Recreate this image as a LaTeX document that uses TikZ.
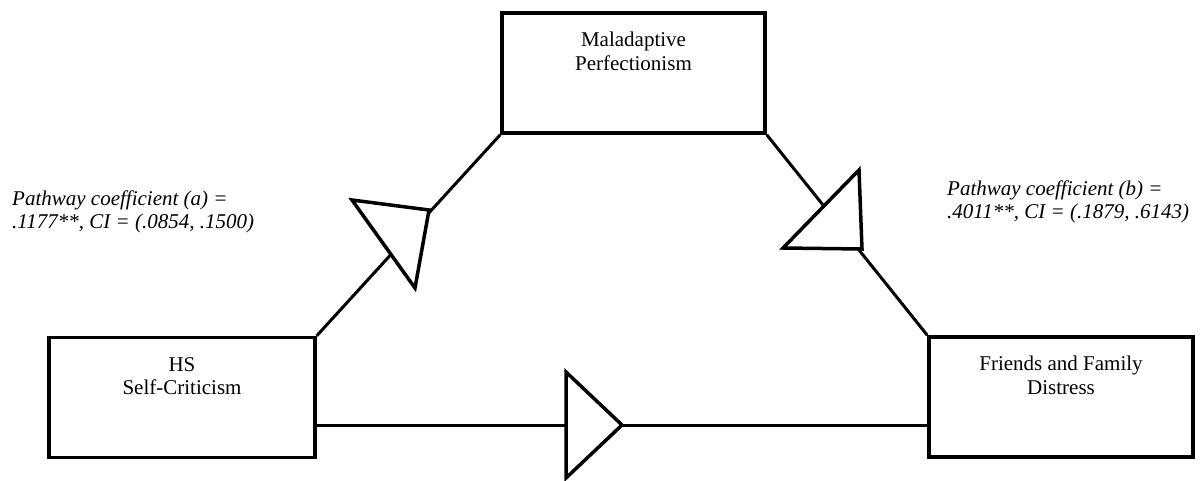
\documentclass[tikz,border=0pt]{standalone}
\usepackage{fontspec}
\setmainfont{Liberation Serif}
\begin{document}
\begin{tikzpicture}[x=1pt, y=-1pt,
    box/.style={draw, line width=3.5pt, rectangle, minimum width=#1, minimum height=120pt, inner sep=0pt},
    box/.default=264pt,
    boxtext/.style={anchor=base, align=center, font=\fontsize{21pt}{23.5pt}\selectfont},
    coeftext/.style={anchor=base west, align=left, inner sep=0pt, font=\fontsize{21pt}{23pt}\selectfont\itshape},
    path/.style={line width=3pt},
    head/.style={line width=3.5pt, fill=white, line join=miter}]

    \useasboundingbox (0,0) rectangle (1200,480);

    % Boxes
    \node[box=266pt] (hs) at (182,397.5) {};
    \node[box=263pt] (mp) at (633.5,73) {};
    \node[box=264pt] (ffd) at (1061,397) {};

    \node[boxtext] at ([yshift=-59pt]hs.north) {HS\\Self-Criticism};
    \node[boxtext] at ([yshift=-59pt]mp.north) {Maladaptive\\Perfectionism};
    \node[boxtext] at ([yshift=-59pt]ffd.north) {Friends and Family\\Distress};

    % Pathways
    \coordinate (low) at (0,425);
    \draw[path] (hs.north east) -- (mp.south west);
    \draw[path] (mp.south east) -- (ffd.north west);
    \draw[path] (hs.east |- low) -- (ffd.west |- low);

    % Define vertices of the heads
    \coordinate (A1) at (352,200);
    \coordinate (A2) at (415,288);
    \coordinate (A3) at (429,210);
    \coordinate (B1) at (859,170);
    \coordinate (B2) at (783,248);
    \coordinate (B3) at (862,249);
    \coordinate (C1) at (566,372);
    \coordinate (C2) at (566,478);
    \coordinate (C3) at (622,425);

    % Draw heads
    \filldraw[head] (A1) -- (A2) -- (A3) -- cycle;
    \filldraw[head] (B1) -- (B2) -- (B3) -- cycle;
    \filldraw[head] (C1) -- (C2) -- (C3) -- cycle;

    % Coefficients
    \node[coeftext] (coefa) at (12,228) {Pathway coefficient (a) =\\.1177**, CI = (.0854, .1500)};
    \node[coeftext] (coefb) at (947,218) {Pathway coefficient (b) =\\.4011**, CI = (.1879, .6143)};

\end{tikzpicture}
\end{document}
